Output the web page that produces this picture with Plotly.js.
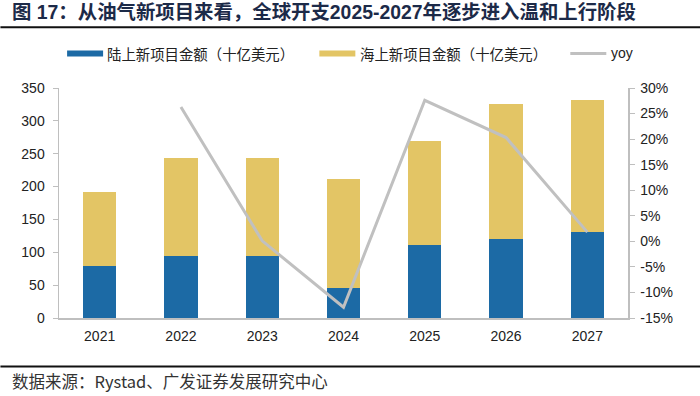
<!DOCTYPE html>
<html>
<head>
<meta charset="utf-8">
<script src="https://cdn.plot.ly/plotly-3.0.1.min.js"></script>
<style>
html,body{margin:0;padding:0;background:#fff;}
#chart{width:700px;height:396px;}
</style>
</head>
<body>
<div id="chart"></div>
<script>
// ---- data ----
const years = ['2021','2022','2023','2024','2025','2026','2027'];
const onshore = [79, 94, 95, 46, 111, 120, 131];      // 陆上新项目金额（十亿美元）
const offshore = [113, 149, 148, 166, 159, 205, 200]; // 海上新项目金额（十亿美元）
const yoy = [null, 26.3, 0.1, -12.9, 27.6, 20.3, 1.8]; // %
const leftTicks = [0, 50, 100, 150, 200, 250, 300, 350];
const rightTicks = [-15, -10, -5, 0, 5, 10, 15, 20, 25, 30];

const seriesNames = ['陆上新项目金额（十亿美元）', '海上新项目金额（十亿美元）', 'yoy'];
const titleText = '图\u00a017：从油气新项目来看，全球开支2025-2027年逐步进入温和上行阶段';
const sourceText = '数据来源：Rystad、广发证券发展研究中心';

// ---- layout geometry (pixels) ----
const W = 700, H = 396;
const L = 58.6, R = 627.7, T = 88.3, B = 318.3;
const pw = R - L, ph = B - T;
const px = v => (v - L) / pw;
const py = v => (B - v) / ph;

const BLUE = '#1c6aa5', YELLOW = '#e3c565', GRAY = '#c0c0c0', AX = '#bfbfbf';
const FONT = 'Liberation Sans, Arial, Noto Sans CJK SC, sans-serif';
const CJK = 'Noto Sans CJK SC, Liberation Sans, sans-serif';

const traces = [
  {type:'bar', x: years, y: onshore, name: seriesNames[0], marker:{color: BLUE}, hoverinfo:'skip'},
  {type:'bar', x: years, y: offshore, name: seriesNames[1], marker:{color: YELLOW}, hoverinfo:'skip'},
  {type:'scatter', mode:'lines', x: years, y: yoy, name: seriesNames[2], yaxis:'y2',
   line:{color: GRAY, width: 3}, hoverinfo:'skip'}
];

const legendItems = [
  {x0: 66.7, x1: 102.7, text: seriesNames[0], tx: 105, kind:'bar', color: BLUE},
  {x0: 319, x1: 355, text: seriesNames[1], tx: 358, kind:'bar', color: YELLOW},
  {x0: 570, x1: 606, text: seriesNames[2], tx: 609, kind:'line', color: GRAY}
];
const legY = 53.7;

const shapes = [
  {type:'line', xref:'paper', yref:'paper', x0: px(0), x1: px(W), y0: py(27.5), y1: py(27.5), line:{color:'#111', width:2}},
  {type:'line', xref:'paper', yref:'paper', x0: px(0), x1: px(W), y0: py(366.7), y1: py(366.7), line:{color:'#111', width:2}}
];
const annotations = [
  {xref:'paper', yref:'paper', x: px(10), y: py(381.7), xanchor:'left', yanchor:'middle', showarrow:false,
   text: sourceText, font:{family: CJK, size: 16.5, color:'#333'}}
];
legendItems.forEach(it => {
  if (it.kind === 'bar') {
    shapes.push({type:'rect', xref:'paper', yref:'paper', x0: px(it.x0), x1: px(it.x1),
      y0: py(legY + 3), y1: py(legY - 3), fillcolor: it.color, line:{width:0}});
  } else {
    shapes.push({type:'line', xref:'paper', yref:'paper', x0: px(it.x0), x1: px(it.x1),
      y0: py(legY), y1: py(legY), line:{color: it.color, width: 3}});
  }
  annotations.push({xref:'paper', yref:'paper', x: px(it.tx), y: py(legY), xanchor:'left', yanchor:'middle',
    showarrow:false, text: it.text, font:{family: it.kind==='line' ? FONT : CJK, size: it.kind==='line' ? 14 : 14.4, color:'#222'}});
});

const layout = {
  width: W, height: H,
  margin: {l: L, r: W - R, t: T, b: H - B, pad: 0},
  paper_bgcolor: '#fff', plot_bgcolor: '#fff',
  barmode: 'stack', bargap: 0.59,
  showlegend: false,
  font: {family: FONT, size: 14, color: '#222'},
  title: {text: titleText, xref:'container', yref:'container', x: 12/W, xanchor:'left',
          y: 1 - 12.5/H, yanchor:'middle',
          font:{family: 'Liberation Sans, Noto Sans CJK SC, sans-serif', size: 19.4, weight: 'bold', color:'#1c2a48'}},
  xaxis: {type:'category', showline:true, linecolor: AX, linewidth: 1.5, ticks:'', showgrid:false,
          ticklabelstandoff: 5, tickfont:{size: 14, color:'#222'}, fixedrange:true},
  yaxis: {range:[0, 350], tickvals: leftTicks, showline:true, linecolor: AX, linewidth: 1.5,
          ticks:'outside', ticklen: 5, tickcolor: AX, showgrid:false, zeroline:false,
          ticklabelstandoff: 5, tickfont:{size: 14, color:'#222'}, fixedrange:true},
  yaxis2: {overlaying:'y', side:'right', range:[-15, 30], tickvals: rightTicks,
           ticktext: rightTicks.map(v => v + '%'), showline:true, linecolor: AX, linewidth: 1.5,
           ticks:'outside', ticklen: 5, tickcolor: AX, showgrid:false, zeroline:false,
           ticklabelstandoff: 3, tickfont:{size: 14, color:'#222'}, fixedrange:true},
  shapes: shapes,
  annotations: annotations
};

Plotly.newPlot('chart', traces, layout, {displayModeBar:false, staticPlot:true});
</script>
</body>
</html>
